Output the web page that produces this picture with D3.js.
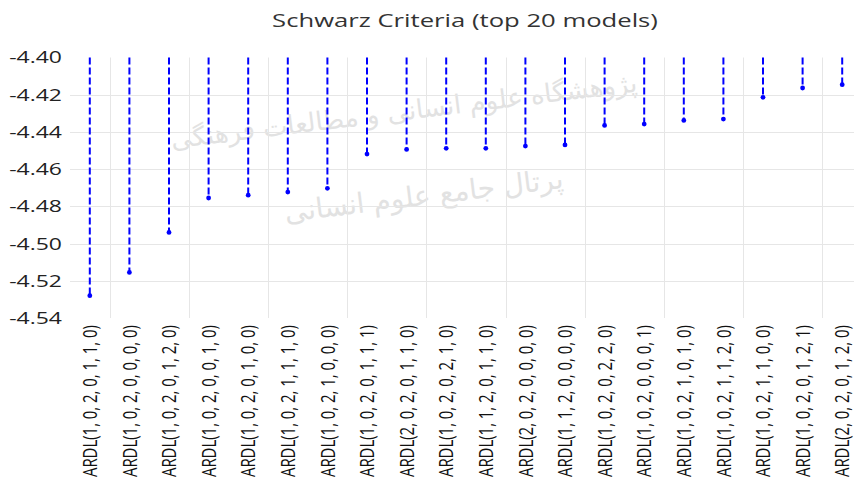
<!DOCTYPE html>
<html>
<head>
<meta charset="utf-8">
<script src="https://cdn.jsdelivr.net/npm/d3@7"></script>
<style>
  html, body { margin: 0; padding: 0; background: #fff; }
  svg { display: block; }
</style>
</head>
<body>
<div id="chart"></div>
<script>
// Model labels, in the order shown
const models = [
  'ARDL(1, 0, 2, 0, 1, 1, 0)', 'ARDL(1, 0, 2, 0, 0, 0, 0)', 'ARDL(1, 0, 2, 0, 1, 2, 0)',
  'ARDL(1, 0, 2, 0, 0, 1, 0)', 'ARDL(1, 0, 2, 0, 1, 0, 0)', 'ARDL(1, 0, 2, 1, 1, 1, 0)',
  'ARDL(1, 0, 2, 1, 0, 0, 0)', 'ARDL(1, 0, 2, 0, 1, 1, 1)', 'ARDL(2, 0, 2, 0, 1, 1, 0)',
  'ARDL(1, 0, 2, 0, 2, 1, 0)', 'ARDL(1, 1, 2, 0, 1, 1, 0)', 'ARDL(2, 0, 2, 0, 0, 0, 0)',
  'ARDL(1, 1, 2, 0, 0, 0, 0)', 'ARDL(1, 0, 2, 0, 2, 2, 0)', 'ARDL(1, 0, 2, 0, 0, 0, 1)',
  'ARDL(1, 0, 2, 1, 0, 1, 0)', 'ARDL(1, 0, 2, 1, 1, 2, 0)', 'ARDL(1, 0, 2, 1, 1, 0, 0)',
  'ARDL(1, 0, 2, 0, 1, 2, 1)', 'ARDL(2, 0, 2, 0, 1, 2, 0)'
];

// Schwarz criterion value for each model
const sic = [
  -4.528, -4.5155, -4.494, -4.4755, -4.474, -4.4723, -4.4703, -4.4519, -4.4494, -4.4488,
  -4.4488, -4.4476, -4.447, -4.4365, -4.4358, -4.4338, -4.4331, -4.4214, -4.4164, -4.4146
];

const yTicks = [-4.40, -4.42, -4.44, -4.46, -4.48, -4.50, -4.52, -4.54];
const yDomain = [-4.54, -4.40];

const width = 854;
const height = 485;
const plot = { left: 70, right: 862, top: 57.5, bottom: 318 };
const stretch = 1.35; // text in the picture is widened horizontally

const svg = d3.select('#chart').append('svg')
  .attr('width', width)
  .attr('height', height);

const x = d3.scaleBand()
  .domain(models)
  .range([plot.left, plot.right])
  .padding(0);

const y = d3.scaleLinear()
  .domain(yDomain)
  .range([plot.bottom, plot.top]);

// faint watermark behind the plot
const wm = svg.append('g')
  .attr('fill', '#e2e2e2')
  .attr('font-family', 'DejaVu Sans, sans-serif')
  .attr('text-anchor', 'middle');
wm.append('text')
  .attr('transform', 'translate(405,120) rotate(-7)')
  .attr('font-size', 26)
  .text('پژوهشگاه علوم انسانی و مطالعات فرهنگی');
wm.append('text')
  .attr('transform', 'translate(425,205) rotate(-7)')
  .attr('font-size', 28)
  .text('پرتال جامع علوم انسانی');

// grid
const grid = svg.append('g').attr('stroke', '#e6e6e6').attr('stroke-width', 1);
grid.selectAll('line.h')
  .data(yTicks.slice(1, -1))
  .enter().append('line')
  .attr('class', 'h')
  .attr('x1', plot.left)
  .attr('x2', plot.right)
  .attr('y1', d => Math.round(y(d)) + 0.5)
  .attr('y2', d => Math.round(y(d)) + 0.5);

// vertical grid every second model
grid.selectAll('line.v')
  .data(models.filter((d, i) => i % 2 === 0))
  .enter().append('line')
  .attr('class', 'v')
  .attr('x1', d => Math.round(x(d) + x.bandwidth()) + 0.5)
  .attr('x2', d => Math.round(x(d) + x.bandwidth()) + 0.5)
  .attr('y1', plot.top)
  .attr('y2', plot.bottom);

// y labels
const yAxis = d3.axisLeft(y).tickValues(yTicks).tickSize(0).tickPadding(0);
const yG = svg.append('g')
  .attr('transform', `translate(62,0)`)
  .call(yAxis);
yG.select('.domain').remove();
yG.selectAll('.tick text')
  .attr('font-family', 'Open Sans, sans-serif')
  .attr('font-size', 17)
  .attr('fill', '#222')
  .attr('x', 0)
  .attr('transform', `scale(${stretch},1)`)
  .text(d => d3.format('.2f')(d).replace('−', '-'));

// dashed drop lines from the top
const data = models.map((m, i) => ({ model: m, value: sic[i] }));
svg.append('g').selectAll('line')
  .data(data)
  .enter().append('line')
  .attr('x1', d => x(d.model) + x.bandwidth() / 2)
  .attr('x2', d => x(d.model) + x.bandwidth() / 2)
  .attr('y1', y(yDomain[1]))
  .attr('y2', d => y(d.value))
  .attr('stroke', '#0000ff')
  .attr('stroke-width', 2)
  .attr('stroke-dasharray', '7,3');

svg.append('g').selectAll('circle')
  .data(data)
  .enter().append('circle')
  .attr('cx', d => x(d.model) + x.bandwidth() / 2)
  .attr('cy', d => y(d.value))
  .attr('r', 2.4)
  .attr('fill', '#0000ff');

// x labels, rotated
svg.append('g').selectAll('text')
  .data(models)
  .enter().append('text')
  .attr('transform', d => `translate(${x(d) + x.bandwidth() / 2},325) scale(${stretch},1) rotate(-90)`)
  .attr('text-anchor', 'end')
  .attr('dy', '0.36em')
  .attr('font-family', 'Open Sans, sans-serif')
  .attr('font-size', 15)
  .attr('fill', '#111')
  .attr('textLength', 152)
  .attr('lengthAdjust', 'spacingAndGlyphs')
  .text(d => d);

// title
svg.append('text')
  .attr('transform', `translate(465,27) scale(${stretch},1)`)
  .attr('text-anchor', 'middle')
  .attr('font-family', 'Open Sans, sans-serif')
  .attr('font-size', 19)
  .attr('fill', '#333')
  .text('Schwarz Criteria (top 20 models)');
</script>
</body>
</html>
